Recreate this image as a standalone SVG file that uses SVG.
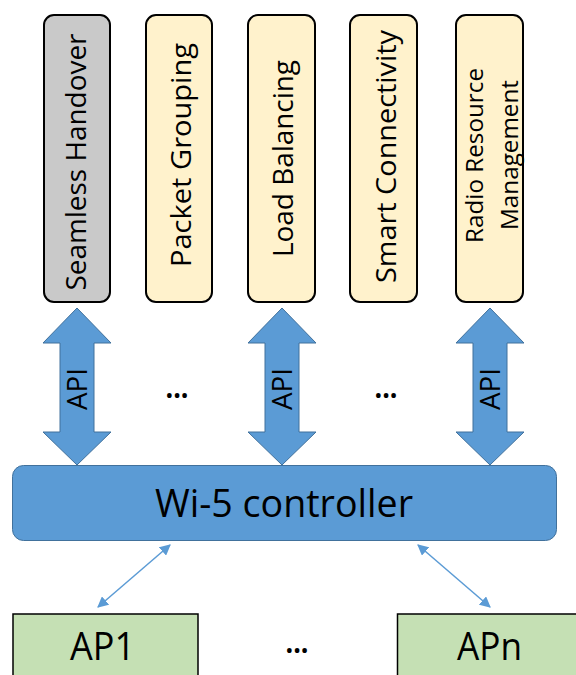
<svg xmlns="http://www.w3.org/2000/svg" width="576" height="675" viewBox="0 0 576 675">
<style>
text{font-family:"Open Sans","Liberation Sans",Arial,sans-serif;fill:#000}
.app{stroke:#000;stroke-width:2}
.y{fill:#FFF2CC}
.g{fill:#C9C9C9}
.big{fill:#5B9BD5;stroke:#41719C;stroke-width:1}
.ap{fill:#C5E0B4;stroke:#000;stroke-width:1.5}
.thin{stroke:#5B9BD5;stroke-width:1.5;fill:none;marker-start:url(#ah);marker-end:url(#ah)}
.dots{font-size:30px;font-weight:bold}
</style>
<defs>
<marker id="ah" viewBox="0 0 10 10" refX="9" refY="5" markerWidth="11" markerHeight="11" markerUnits="userSpaceOnUse" orient="auto-start-reverse">
<path d="M0,0 L10,5 L0,10 z" fill="#5B9BD5"/>
</marker>
<path id="dbl" d="M0,0 L34,35 L17,35 L17,124 L34,124 L0,157 L-34,124 L-17,124 L-17,35 L-34,35 z"/>
</defs>
<g id="seamless-handover">
<rect class="app g" x="44" y="15" width="66" height="287" rx="10"/>
<text transform="translate(86,162) rotate(-90)" font-size="28" text-anchor="middle" textLength="257" lengthAdjust="spacingAndGlyphs">Seamless Handover</text>
</g>
<g id="packet-grouping">
<rect class="app y" x="146" y="15" width="66" height="287" rx="10"/>
<text transform="translate(191,155) rotate(-90)" font-size="28" text-anchor="middle" textLength="224" lengthAdjust="spacingAndGlyphs">Packet Grouping</text>
</g>
<g id="load-balancing">
<rect class="app y" x="248" y="15" width="67" height="287" rx="10"/>
<text transform="translate(293,158.5) rotate(-90)" font-size="28" text-anchor="middle" textLength="197" lengthAdjust="spacingAndGlyphs">Load Balancing</text>
</g>
<g id="smart-connectivity">
<rect class="app y" x="350" y="15" width="67" height="287" rx="10"/>
<text transform="translate(396,156.5) rotate(-90)" font-size="28" text-anchor="middle" textLength="253" lengthAdjust="spacingAndGlyphs">Smart Connectivity</text>
</g>
<g id="radio-resource-management">
<rect class="app y" x="456" y="15" width="67" height="287" rx="10"/>
<text transform="translate(483,155.5) rotate(-90)" font-size="24" text-anchor="middle" textLength="175" lengthAdjust="spacingAndGlyphs">Radio Resource</text>
<text transform="translate(518,155) rotate(-90)" font-size="24" text-anchor="middle" textLength="150" lengthAdjust="spacingAndGlyphs">Management</text>
</g>
<g id="wi5-controller">
<rect class="big" x="12.5" y="465.5" width="544" height="75" rx="11"/>
<text x="284" y="517" font-size="38" text-anchor="middle" textLength="258" lengthAdjust="spacingAndGlyphs">Wi-5 controller</text>
</g>
<g id="ap1">
<rect class="ap" x="13" y="614" width="185" height="70"/>
<text x="102.5" y="660" font-size="38" text-anchor="middle" textLength="65" lengthAdjust="spacingAndGlyphs">AP1</text>
</g>
<g id="apn">
<rect class="ap" x="397.5" y="614" width="190" height="70"/>
<text x="489.5" y="660" font-size="38" text-anchor="middle" textLength="65" lengthAdjust="spacingAndGlyphs">APn</text>
</g>
<g id="connectors">
<use href="#dbl" class="big" x="77" y="308"/>
<use href="#dbl" class="big" x="282" y="308"/>
<use href="#dbl" class="big" x="490" y="308"/>
<text transform="translate(87,389) rotate(-90)" font-size="28" text-anchor="middle" textLength="42" lengthAdjust="spacingAndGlyphs">API</text>
<text transform="translate(292,389) rotate(-90)" font-size="28" text-anchor="middle" textLength="42" lengthAdjust="spacingAndGlyphs">API</text>
<text transform="translate(500,389) rotate(-90)" font-size="28" text-anchor="middle" textLength="42" lengthAdjust="spacingAndGlyphs">API</text>
<line class="thin" x1="98" y1="607" x2="170" y2="545"/>
<line class="thin" x1="418" y1="545" x2="490" y2="607"/>
</g>
<g id="ellipses">
<text class="dots" x="177" y="398" text-anchor="middle" textLength="23" lengthAdjust="spacingAndGlyphs">...</text>
<text class="dots" x="386" y="398" text-anchor="middle" textLength="23" lengthAdjust="spacingAndGlyphs">...</text>
<text class="dots" x="297" y="653" text-anchor="middle" textLength="23" lengthAdjust="spacingAndGlyphs">...</text>
</g>
</svg>
